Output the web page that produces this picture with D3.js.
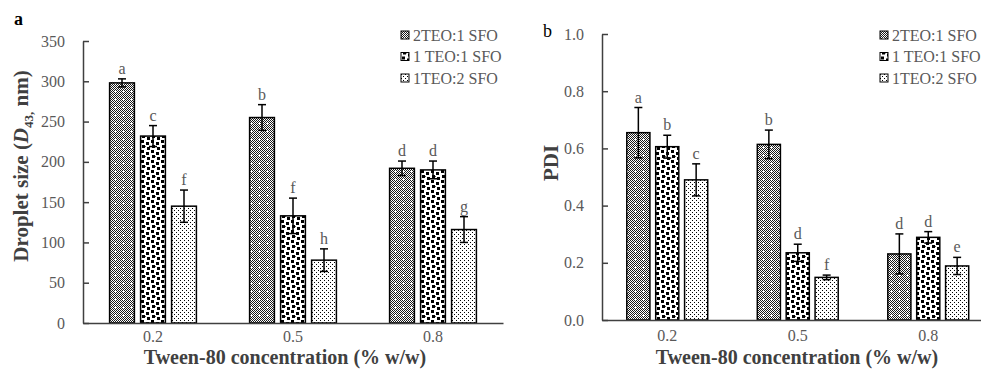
<!DOCTYPE html>
<html>
<head>
<meta charset="utf-8">
<script src="https://cdnjs.cloudflare.com/ajax/libs/d3/7.8.5/d3.min.js"></script>
<style>
	body { margin: 0; background: #fff; }
	svg { display: block; }
</style>
</head>
<body>
<svg id="chart" width="981" height="369"></svg>
<script>
// DATA (rows = oil ratio, columns = tween-80 concentration)
const concentrations = ['0.2', '0.5', '0.8'];
const ratioNames = ['2TEO:1 SFO', '1 TEO:1 SFO', '1TEO:2 SFO'];

// - droplet size D43 (nm)
const sizeMeans = [[298, 255, 192], [232, 133, 190], [145, 78, 116]];
const sizeErrors = [[5, 16, 9], [13, 22, 11], [20, 14, 16]];
const sizeLetters = [['a', 'b', 'd'], ['c', 'f', 'd'], ['f', 'h', 'g']];
const sizeTicks = [0, 50, 100, 150, 200, 250, 300, 350];

// - polydispersity index
const pdiMeans = [[0.655, 0.614, 0.231], [0.606, 0.235, 0.289], [0.49, 0.149, 0.189]];
const pdiErrors = [[0.088, 0.05, 0.07], [0.04, 0.03, 0.02], [0.056, 0.008, 0.03]];
const pdiLetters = [['a', 'b', 'd'], ['b', 'd', 'd'], ['c', 'f', 'e']];
const pdiTicks = [0, 0.2, 0.4, 0.6, 0.8, 1.0];

// GLOBAL CONSTANTS
const svg = d3.select('#chart');
const serif = '"Liberation Serif", "Times New Roman", serif';
const grayText = '#595959';
const axisColor = '#404040';
const patternIds = ['pat-dense', 'pat-blocks', 'pat-dots'];

// fill patterns for the three ratios
function definePatterns(){
	const defs = svg.append('defs');

	// 2TEO:1 SFO - fine checker with small white crosses
	const dense = defs.append('pattern')
		.attr('id', patternIds[0])
		.attr('patternUnits', 'userSpaceOnUse')
		.attr('width', 8).attr('height', 8);
	dense.append('rect').attr('width', 8).attr('height', 8).attr('fill', '#fff');
	for(let i = 0; i < 8; i++){
		for(let j = 0; j < 8; j++){
			if((i + j) % 2 == 0) dense.append('rect').attr('x', i).attr('y', j).attr('width', 1).attr('height', 1).attr('fill', '#1a1a1a');
		}
	}
	dense.append('rect').attr('x', 3).attr('y', 2).attr('width', 1).attr('height', 3).attr('fill', '#fff');
	dense.append('rect').attr('x', 2).attr('y', 3).attr('width', 3).attr('height', 1).attr('fill', '#fff');

	// 1 TEO:1 SFO - scattered black blocks
	const blocks = defs.append('pattern')
		.attr('id', patternIds[1])
		.attr('patternUnits', 'userSpaceOnUse')
		.attr('width', 10).attr('height', 10);
	blocks.append('rect').attr('width', 10).attr('height', 10).attr('fill', '#fff');
	[[1, 0], [6, 2], [2, 5], [7, 7]].forEach(function(p){
		blocks.append('rect').attr('x', p[0]).attr('y', p[1]).attr('width', 3).attr('height', 3).attr('fill', '#000');
	});
	blocks.append('rect').attr('x', 5).attr('y', 6).attr('width', 1).attr('height', 1).attr('fill', '#555');

	// 1TEO:2 SFO - sparse small dots
	const dots = defs.append('pattern')
		.attr('id', patternIds[2])
		.attr('patternUnits', 'userSpaceOnUse')
		.attr('width', 4).attr('height', 4);
	dots.append('rect').attr('width', 4).attr('height', 4).attr('fill', '#fff');
	dots.append('rect').attr('width', 1).attr('height', 1).attr('fill', '#000');
	dots.append('rect').attr('x', 2).attr('y', 2).attr('width', 1).attr('height', 1).attr('fill', '#000');
}

// one bar panel with error bars, letters, axes and legend
function drawPanel(p){
	const g = svg.append('g');

	const x0 = d3.scaleBand()
		.domain(concentrations)
		.range(p.xRange)
		.paddingInner(0.38)
		.paddingOuter(0.19);
	const x1 = d3.scaleBand()
		.domain(d3.range(ratioNames.length))
		.range([0, x0.bandwidth()])
		.paddingInner(0.2);
	const y = d3.scaleLinear().domain(p.yDomain).range(p.yRange);

	// bars
	ratioNames.forEach(function(name, s){
		const series = g.append('g').attr('class', 'series');
		concentrations.forEach(function(c, i){
			const bx = x0(c) + x1(s),
				bw = x1.bandwidth(),
				cx = bx + bw / 2,
				mean = p.means[s][i],
				err = p.errors[s][i];

			series.append('rect')
				.attr('x', bx)
				.attr('y', y(mean))
				.attr('width', bw)
				.attr('height', y(0) - y(mean))
				.attr('fill', 'url(#' + patternIds[s] + ')')
				.attr('stroke', '#000')
				.attr('stroke-width', 1.5);

			// error bar
			const eg = series.append('g').attr('stroke', '#000').attr('stroke-width', 1.5);
			eg.append('line').attr('x1', cx).attr('x2', cx).attr('y1', y(mean - err)).attr('y2', y(mean + err));
			eg.append('line').attr('x1', cx - 4).attr('x2', cx + 4).attr('y1', y(mean + err)).attr('y2', y(mean + err));
			eg.append('line').attr('x1', cx - 4).attr('x2', cx + 4).attr('y1', y(mean - err)).attr('y2', y(mean - err));

			// significance letter
			series.append('text')
				.attr('x', cx)
				.attr('y', y(mean + err) - 5)
				.attr('text-anchor', 'middle')
				.attr('font-family', serif)
				.attr('font-size', '16px')
				.attr('fill', grayText)
				.text(p.letters[s][i]);
		});
	});

	// y axis, ticks pointing inwards
	const yAxis = g.append('g')
		.attr('transform', 'translate(' + p.xRange[0] + ',0)')
		.call(d3.axisLeft(y).tickValues(p.ticks).tickFormat(p.format).tickSizeInner(-6).tickSizeOuter(0).tickPadding(18));
	yAxis.selectAll('path, line').attr('stroke', axisColor).attr('stroke-width', 1.5);
	yAxis.selectAll('text').attr('font-family', serif).attr('font-size', '16px').attr('fill', grayText);

	// x axis
	const xAxis = g.append('g')
		.attr('transform', 'translate(0,' + y(0) + ')')
		.call(d3.axisBottom(x0).tickSize(0).tickSizeOuter(0).tickPadding(p.xLabelPad));
	xAxis.select('.domain').attr('stroke', axisColor).attr('stroke-width', 1.5);
	xAxis.selectAll('text').attr('font-family', serif).attr('font-size', '16px').attr('fill', grayText);

	// x title
	g.append('text')
		.attr('x', p.xTitlePos[0])
		.attr('y', p.xTitlePos[1])
		.attr('text-anchor', 'middle')
		.attr('font-family', serif)
		.attr('font-size', '20px')
		.attr('font-weight', 'bold')
		.attr('fill', axisColor)
		.text('Tween-80 concentration (% w/w)');

	// y title
	const yt = g.append('text')
		.attr('transform', 'translate(' + p.yTitlePos[0] + ',' + p.yTitlePos[1] + ') rotate(-90)')
		.attr('text-anchor', 'middle')
		.attr('font-family', serif)
		.attr('font-size', '21px')
		.attr('font-weight', 'bold')
		.attr('fill', axisColor);
	p.yTitle(yt);

	// panel letter
	g.append('text')
		.attr('x', p.labelPos[0])
		.attr('y', p.labelPos[1])
		.attr('font-family', serif)
		.attr('font-size', '18px')
		.attr('font-weight', p.labelWeight)
		.attr('fill', '#000')
		.text(p.label);

	// legend
	const legend = g.append('g').attr('transform', 'translate(' + p.legendPos[0] + ',' + p.legendPos[1] + ')');
	ratioNames.forEach(function(name, s){
		const row = legend.append('g').attr('transform', 'translate(0,' + (s * 21.5) + ')');
		row.append('rect')
			.attr('x', 0).attr('y', -4)
			.attr('width', 8).attr('height', 8)
			.attr('fill', 'url(#' + patternIds[s] + ')')
			.attr('stroke', '#000')
			.attr('stroke-width', 1);
		row.append('text')
			.attr('x', 12)
			.attr('y', 5.5)
			.attr('font-family', serif)
			.attr('font-size', '16px')
			.attr('fill', grayText)
			.text(name);
	});
}

function sizeTitle(t){
	t.append('tspan').text('Droplet size (');
	t.append('tspan').attr('font-style', 'italic').text('D');
	t.append('tspan').attr('font-size', '13px').attr('dy', 5).text('43,');
	t.append('tspan').attr('dy', -5).text(' nm)');
}

function pdiTitle(t){
	t.text('PDI');
}

definePatterns();

drawPanel({
	means: sizeMeans, errors: sizeErrors, letters: sizeLetters,
	ticks: sizeTicks, format: d3.format('d'),
	yDomain: [0, 350], yRange: [323, 41], xRange: [83, 503],
	xLabelPad: 8, xTitlePos: [285, 364],
	yTitlePos: [28, 166], yTitle: sizeTitle,
	label: 'a', labelPos: [14, 25], labelWeight: 'bold',
	legendPos: [401, 35]
});

drawPanel({
	means: pdiMeans, errors: pdiErrors, letters: pdiLetters,
	ticks: pdiTicks, format: d3.format('.1f'),
	yDomain: [0, 1], yRange: [320, 34], xRange: [602, 993.5],
	xLabelPad: 10, xTitlePos: [797, 364],
	yTitlePos: [558, 163], yTitle: pdiTitle,
	label: 'b', labelPos: [543, 37], labelWeight: 'normal',
	legendPos: [880, 35]
});
</script>
</body>
</html>
